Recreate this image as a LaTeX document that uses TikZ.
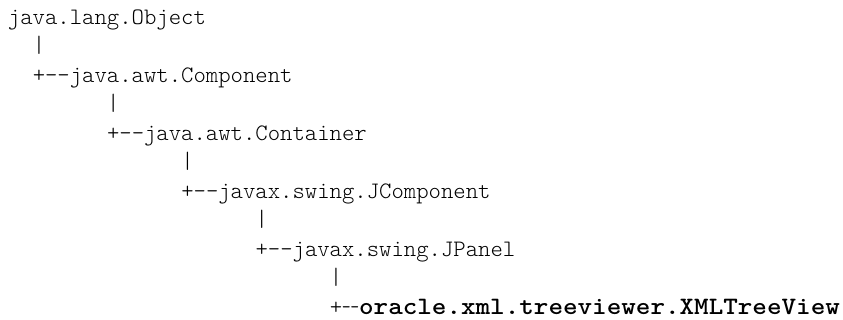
\documentclass[tikz,border=0pt]{standalone}
\usepackage{graphicx}
\usepackage{fontspec}
% thin typewriter face for the class hierarchy listing
\newfontfamily\treemono{lmmonolt10-regular}[Extension=.otf, Ligatures=TeXOff]
\newfontfamily\treemonobold{lmmonolt10-bold}[Extension=.otf, Ligatures=TeXOff, FakeStretch=1.11]
% a narrow cell holding one shortened dash
\newcommand\narrowdash{\makebox[8.5pt][c]{\scalebox{0.72}[1]{-}}}
\begin{document}
\begin{tikzpicture}[x=1pt,y=1pt,
  listing/.style={anchor=base west, inner sep=0pt, outer sep=0pt,
    font=\treemono\fontsize{23.57}{24}\selectfont}]
\useasboundingbox (0,0) rectangle (843,320);
% one character cell is 12.375 wide, one line is 29 high
\node[listing] (object)     at (8, 295)              {java.lang.Object};
\node[listing] (bar1)       at (8+2*12.375, 267)     {|};
\node[listing] (component)  at (8+2*12.375, 237)     {+--java.awt.Component};
\node[listing] (bar2)       at (8+8*12.375, 209)     {|};
\node[listing] (container)  at (8+8*12.375, 179)     {+--java.awt.Container};
\node[listing] (bar3)       at (8+14*12.375, 151)    {|};
\node[listing] (jcomponent) at (8+14*12.375, 121)    {+--javax.swing.JComponent};
\node[listing] (bar4)       at (8+20*12.375, 93)     {|};
\node[listing] (jpanel)     at (8+20*12.375, 63)     {+--javax.swing.JPanel};
\node[listing] (bar5)       at (8+26*12.375, 35)     {|};
\node[listing] (treeview)   at (8+26*12.375, 5)
  {+\narrowdash\narrowdash{\treemonobold\fontsize{25}{26}\selectfont oracle.xml.treeviewer.XMLTreeView}};
\end{tikzpicture}
\end{document}
